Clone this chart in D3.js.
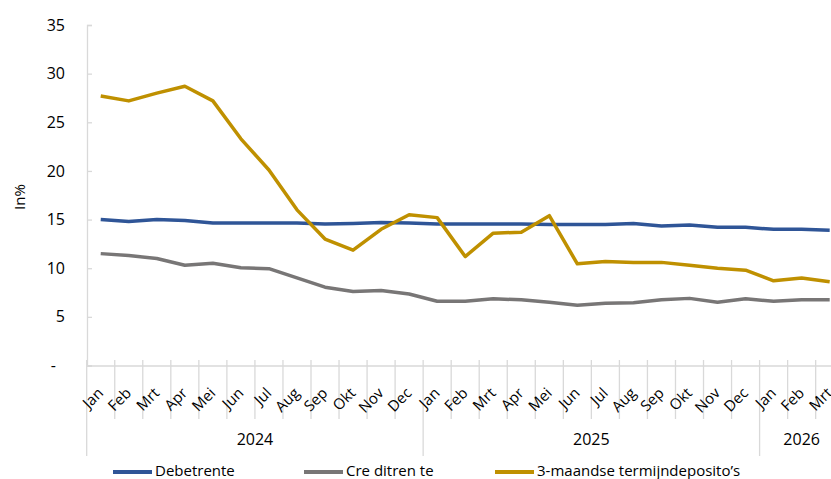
<!DOCTYPE html>
<html>
<head>
<meta charset="utf-8">
<script src="https://cdn.jsdelivr.net/npm/d3@7"></script>
<style>
  html, body { margin: 0; padding: 0; background: #fff; }
  svg { display: block; overflow: hidden; }
</style>
</head>
<body>
<svg id="chart"></svg>
<script>
const months = ["Jan","Feb","Mrt","Apr","Mei","Jun","Jul","Aug","Sep","Okt","Nov","Dec",
                "Jan","Feb","Mrt","Apr","Mei","Jun","Jul","Aug","Sep","Okt","Nov","Dec",
                "Jan","Feb","Mrt"];
const years = [
  { label: "2024", from: 0, to: 12 },
  { label: "2025", from: 12, to: 24 },
  { label: "2026", from: 24, to: 27 }
];
const yTicks = [0, 5, 10, 15, 20, 25, 30, 35];

const debetrente = [15.0, 14.8, 15.0, 14.9, 14.65, 14.65, 14.65, 14.65, 14.55, 14.6, 14.7, 14.65,
                    14.55, 14.55, 14.55, 14.55, 14.5, 14.5, 14.5, 14.6, 14.35, 14.45, 14.2, 14.2,
                    14.0, 14.0, 13.9];
const creditrente = [11.5, 11.3, 11.0, 10.3, 10.5, 10.05, 9.95, 9.0, 8.05, 7.6, 7.7, 7.35,
                     6.6, 6.6, 6.85, 6.75, 6.5, 6.2, 6.4, 6.45, 6.75, 6.9, 6.5, 6.85,
                     6.6, 6.75, 6.75];
const termijn = [27.7, 27.2, 28.0, 28.7, 27.2, 23.3, 20.1, 16.0, 13.0, 11.85, 14.0, 15.5,
                 15.2, 11.2, 13.6, 13.7, 15.4, 10.45, 10.7, 10.6, 10.6, 10.3, 10.0, 9.8,
                 8.7, 9.0, 8.6];

const series = [
  { name: "Debetrente", values: debetrente, color: "#2F5597" },
  { name: "Cre ditren te", values: creditrente, color: "#787676" },
  { name: "3-maandse termijndeposito\u2019s", values: termijn, color: "#BF9000" }
];

const W = 831, H = 479;
const FONT = "'Open Sans', 'Noto Sans', sans-serif";
const axisCol = "#D9D9D9";

const svg = d3.select("#chart").attr("width", W).attr("height", H);

const idx = months.map((m, i) => i);
const x = d3.scaleBand().domain(idx).range([86.7, 843.7]).padding(0);
const y = d3.scaleLinear().domain([0, 35]).range([365.5, 25]);
const cx = i => x(i) + x.bandwidth() / 2;
const edge = i => i < months.length ? x(i) : x(months.length - 1) + x.bandwidth();

// Y axis
svg.append("g")
  .attr("transform", "translate(87,0)")
  .call(d3.axisLeft(y).tickValues(yTicks).tickSize(-5).tickPadding(22)
    .tickFormat(d => d === 0 ? "-" : d))
  .call(ax => {
    ax.select(".domain").attr("stroke", axisCol).attr("stroke-width", 1.3);
    ax.selectAll(".tick line").attr("stroke", axisCol).attr("stroke-width", 1.3);
    ax.selectAll(".tick text").style("font-family", FONT).style("font-size", "16px").attr("fill", "#000");
    ax.selectAll(".tick").filter(d => d === 0).select("text").attr("dx", -9);
  });

svg.append("text")
  .attr("transform", "translate(25,197) rotate(-90)")
  .attr("text-anchor", "middle")
  .style("font-family", FONT).style("font-size", "15px")
  .text("In%");

// X axis: baseline, month separators, labels
svg.append("line")
  .attr("x1", 86.7).attr("x2", 843.7).attr("y1", 366).attr("y2", 366)
  .attr("stroke", axisCol).attr("stroke-width", 1.3);

const yearEdges = years.map(d => d.from);
svg.append("g").selectAll("line")
  .data(d3.range(months.length + 1)).join("line")
  .attr("x1", i => edge(i)).attr("x2", i => edge(i))
  .attr("y1", 360)
  .attr("y2", i => yearEdges.includes(i) ? 456 : 419)
  .attr("stroke", axisCol).attr("stroke-width", 1.3);

svg.append("g")
  .attr("transform", "translate(0,366)")
  .call(d3.axisBottom(x).tickSize(0).tickFormat(i => months[i]))
  .call(ax => {
    ax.select(".domain").remove();
    ax.selectAll(".tick text")
      .attr("y", 0).attr("dy", 0)
      .attr("transform", "translate(3.5,28) rotate(-45)")
      .attr("text-anchor", "end")
      .style("font-family", FONT).style("font-size", "15px").attr("fill", "#000");
  });

svg.append("g").selectAll("text")
  .data(years).join("text")
  .attr("x", d => (edge(d.from) + edge(d.to)) / 2)
  .attr("y", 445)
  .attr("text-anchor", "middle")
  .style("font-family", FONT).style("font-size", "16px")
  .text(d => d.label);

// Lines
const line = d3.line().x((d, i) => cx(i)).y(d => y(d));
svg.append("g").selectAll("path")
  .data(series).join("path")
  .attr("d", d => line(d.values))
  .attr("fill", "none")
  .attr("stroke", d => d.color)
  .attr("stroke-width", 3.5)
  .attr("stroke-linejoin", "round");

// Legend
const legX = [113, 304, 495];
const leg = svg.append("g").selectAll("g")
  .data(series).join("g")
  .attr("transform", (d, i) => `translate(${legX[i]},472)`);
leg.append("line")
  .attr("x1", 0).attr("x2", 39).attr("y1", 0).attr("y2", 0)
  .attr("stroke", d => d.color).attr("stroke-width", 4);
leg.append("text")
  .attr("x", 42).attr("y", 4)
  .style("font-family", FONT).style("font-size", "15px")
  .text(d => d.name);
</script>
</body>
</html>
